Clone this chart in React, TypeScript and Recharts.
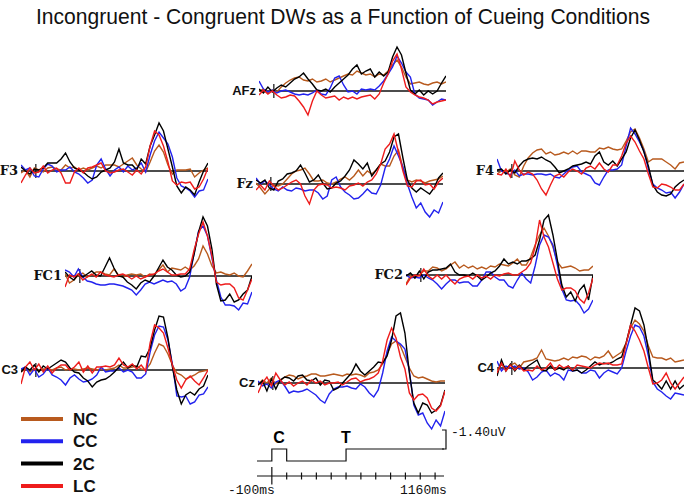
import { LineChart, Line, XAxis, YAxis, ReferenceLine } from "recharts";

// sample times (ms) shared by every electrode
const times = [
  -100, -70, -40, -10, 20, 50, 80, 110, 140, 170, 200, 230, 260, 290, 320, 350, 380, 410, 440, 470, 500, 530,
  560, 590, 620, 650, 680, 710, 740, 770, 800, 830, 860, 890, 920, 950, 980, 1010, 1040, 1070, 1100, 1130, 1160,
];

// amplitudes, negative polarity plotted up (arbitrary units, 14 units = 1.40 uV)
const afzNC = [0,2,-2,1,-1,4,8,11,13,14,11,10,12,9,10,12,9,11,13,15,17,16,20,18,16,17,14,17,16,20,26,31,24,14,7,8,9,7,6,8,9,7,9];
const afzCC = [10,2,-1,1,-2,0,1,-1,-3,-4,-3,-4,-2,1,-3,-4,3,13,15,6,-1,0,-3,2,1,2,1,5,10,17,24,35,28,19,14,-3,-7,-8,-9,-14,-11,-8,-9];
const afz2C = [2,-2,4,-1,3,6,4,8,12,14,18,12,7,1,0,2,-1,4,8,12,16,22,26,17,20,22,14,19,15,19,34,44,36,18,1,-3,1,-4,0,-3,0,8,15];
const afzLC = [-4,1,-3,0,-4,-7,-6,-4,-5,-10,-16,-24,-10,0,-4,-7,-6,-5,-9,-6,-8,-6,-8,-6,-5,-4,-8,-3,8,17,30,37,22,4,-1,-4,-6,-7,-9,-13,-11,-10,-9];

const f3NC = [-2,1,-6,3,1,-1,3,4,2,1,6,3,4,1,3,1,3,5,3,6,6,6,4,7,10,13,6,2,-1,9,20,26,19,6,-3,1,1,1,2,-6,-2,1,3];
const f3CC = [6,1,3,-5,-6,2,7,5,-1,1,1,4,-1,-3,-7,-12,-9,6,12,2,-5,1,4,-1,5,1,3,8,-1,16,30,39,33,27,14,-7,-15,-17,-20,-26,-20,-19,-8];
const f32C = [4,0,-3,2,1,3,8,8,8,12,18,9,3,1,-1,-5,-8,-6,-1,1,3,9,22,8,6,6,1,12,7,25,36,48,40,22,4,-15,-22,-16,-19,-24,-11,0,8];
const f3LC = [-12,-4,3,-2,-1,5,-2,1,3,-2,-12,-12,-1,3,-2,3,4,6,8,0,-2,-1,1,2,-1,-4,1,-3,4,25,40,36,25,9,-10,-14,-11,-12,-11,-18,-16,-8,3];

const fzNC = [1,-4,-10,-5,-1,-2,0,5,10,13,14,16,10,3,3,4,1,0,2,5,7,4,8,14,8,13,10,14,20,18,18,28,34,16,4,2,4,3,1,3,4,5,8];
const fzCC = [6,0,3,-1,-5,-7,-3,-6,-7,-4,-5,-7,-6,-6,-9,-15,-12,4,7,-3,-8,-11,-15,-14,-10,-5,-9,-10,-1,16,25,38,28,17,0,-13,-24,-19,-28,-33,-26,-29,-18];
const fz2C = [4,1,4,-4,-6,3,5,10,11,13,19,11,2,4,9,1,-5,-4,1,3,8,14,24,20,15,21,8,14,20,23,32,47,50,26,4,-4,-8,-4,-7,-10,-4,6,11];
const fzLC = [-6,-1,-6,3,-2,-6,-4,-1,2,4,0,-12,-20,-6,-1,0,-1,-4,-3,-4,-6,-2,-1,1,-2,2,4,10,20,35,40,50,32,13,-2,-3,3,4,-1,0,-5,2,6];

const f4NC = [-3,0,-1,2,-4,-6,5,13,18,21,22,17,19,16,17,19,17,20,17,20,20,19,19,23,22,24,22,21,22,30,39,42,33,22,9,12,12,12,9,6,2,8,9];
const f4CC = [12,0,-2,-4,1,-5,-3,-3,-4,-3,-3,-4,-3,-6,-7,-3,1,4,5,-1,-3,-5,-12,-14,-6,1,1,2,6,25,43,37,29,20,2,-13,-17,-19,-22,-21,-27,-21,-13];
const f42C = [1,2,-3,1,-2,5,10,12,13,12,14,11,9,4,-2,0,2,5,6,7,9,7,15,19,9,6,10,5,12,19,33,41,31,19,5,-14,-21,-24,-25,-23,-16,-12,-9];
const f4LC = [-3,-4,2,-6,10,1,-4,-1,-3,-9,-18,-24,-14,-5,-3,-6,-1,2,0,-3,3,5,2,8,2,-1,6,6,15,28,35,29,20,12,-3,-16,-17,-13,-14,-16,-19,-19,-13];

const fc1NC = [2,-7,-4,1,3,-1,1,4,4,2,1,7,1,-1,1,2,1,2,-1,2,1,6,11,4,8,7,6,9,6,10,17,30,22,10,3,4,2,1,3,0,-1,5,12];
const fc1CC = [6,4,-1,7,-1,-5,-6,-8,-9,-9,-8,-8,-9,-10,-12,-14,-19,-14,-8,-6,-8,-6,-4,-6,-5,-8,-15,-12,-1,23,45,50,40,18,-4,-21,-29,-29,-30,-34,-27,-28,-16];
const fc12C = [4,-1,-4,2,-1,2,5,1,0,9,18,8,0,-1,-6,-9,-13,-7,-4,-6,0,8,16,9,6,1,-1,0,4,22,44,59,50,27,-8,-25,-24,-18,-26,-24,-18,-14,0];
const fc1LC = [-11,1,-1,2,-4,-1,2,-1,4,1,0,-1,1,2,0,-3,0,-3,-1,1,2,5,7,4,1,1,2,2,7,26,42,54,40,20,-6,-9,-8,-8,-12,-22,-24,-14,-3];

const fc2NC = [-9,-1,-3,0,4,4,8,7,4,6,10,13,7,10,7,9,6,8,6,9,8,11,10,9,12,16,10,10,18,30,40,47,39,28,13,7,8,9,7,4,5,5,9];
const fc2CC = [0,-3,-2,-3,0,-3,-5,-9,-14,-9,-5,-5,-8,-7,-7,-11,-11,-5,3,3,-2,-5,-5,-11,-13,-5,2,-4,-8,9,30,40,38,30,10,-14,-25,-26,-25,-30,-38,-34,-25];
const fc22C = [-1,2,-3,4,-4,3,5,5,6,7,11,3,0,0,-1,2,-1,-5,-2,2,4,9,16,11,13,11,14,14,16,20,35,55,60,40,15,-10,-22,-17,-26,-15,-10,-25,0];
const fc2LC = [-10,-3,0,-1,6,-1,-4,0,-4,0,-5,-9,-4,-2,-1,-4,0,-3,-1,-4,0,-1,1,2,0,0,3,6,12,28,55,38,28,12,-4,-15,-13,-13,-16,-24,-28,-18,-3];

const c3NC = [-2,1,-2,1,0,1,1,0,2,3,0,1,1,0,1,2,1,0,1,0,1,2,5,2,2,3,4,1,0,6,17,26,24,16,5,-3,-5,-9,-7,-5,-2,-1,0];
const c3CC = [1,3,-5,1,-7,-4,2,-5,-7,-10,-15,-8,-5,-9,-12,-11,-9,-5,3,-2,-1,-1,2,-2,0,-2,-8,-8,-4,18,35,44,43,30,6,-26,-27,-26,-34,-32,-25,-24,-17];
const c32C = [-2,3,0,5,-2,4,1,4,7,10,8,2,-2,-3,-8,-11,-17,-12,-10,-9,-6,-2,3,8,2,5,3,14,13,22,40,54,53,32,3,-20,-34,-25,-22,-25,-19,-16,-5];
const c3LC = [-14,3,8,0,6,-2,4,-3,2,5,5,0,3,8,-2,4,-3,3,3,4,3,5,12,5,3,6,1,5,-1,27,45,42,37,22,5,-10,-18,-10,-6,-11,-15,-8,0];

const czNC = [-2,3,0,5,-1,2,6,8,7,4,6,7,9,9,7,7,8,9,8,7,9,8,9,8,6,10,11,13,19,29,39,42,37,26,15,7,5,6,4,2,1,2,2];
const czCC = [2,-3,-1,-5,1,3,-3,-10,-8,-9,-8,-6,-9,-12,-17,-20,-11,-6,-4,-4,-3,-5,-6,-1,-4,-10,-14,-7,10,32,46,42,39,34,12,-22,-32,-30,-40,-46,-37,-43,-28];
const cz2C = [-2,2,-8,4,-6,3,6,5,2,7,8,3,2,5,-2,3,2,-7,-5,0,5,10,19,12,8,12,16,21,20,27,43,67,70,50,10,-20,-30,-20,-22,-30,-27,-22,-7];
const czLC = [-10,0,6,-3,10,3,-2,1,-3,0,2,-2,3,0,2,-2,0,0,1,-2,1,4,5,1,3,4,6,10,22,43,55,45,26,14,-10,-17,-12,-11,-15,-25,-28,-23,-8];

const c4NC = [-2,3,0,3,5,0,6,7,8,10,18,9,8,7,8,10,8,11,10,12,11,8,11,10,12,17,10,13,16,25,40,48,44,37,22,11,10,10,8,10,6,7,8];
const c4CC = [7,-3,2,0,2,-1,0,-4,-12,-9,-4,-2,-8,-5,-7,-12,-2,-3,-2,-5,-5,-2,-3,-10,-5,-2,-4,-6,0,17,32,43,41,32,12,-14,-21,-24,-28,-31,-25,-26,-27];
const c42C = [-8,8,-3,4,-3,3,-2,2,5,8,-2,-3,2,-2,0,-2,2,-3,-2,-5,-2,2,6,3,5,4,6,9,11,25,43,60,57,43,18,-12,-16,-21,-13,-21,-13,-21,-17];
const c4LC = [-5,5,-3,3,-2,2,-3,-2,-3,2,-2,0,5,-2,3,0,2,-2,3,2,1,0,3,5,4,5,3,3,4,24,43,37,28,17,0,-16,-15,-12,-5,-15,-21,-15,-9];

// stimulus channel and time axis of the scale diagram
const cueTimes = [-100, 0, 100, 500, 1160];
const cueLevels = [0, 1, 0, 1, 1];
const axisTicks = [100, 200, 300, 400, 500, 600, 700, 800, 900, 1000, 1100];

const conditions = ["NC", "CC", "2C", "LC"];
const colors: Record<string, string> = { NC: "#b85a1e", CC: "#2222ee", "2C": "#000000", LC: "#ee1c1c" };

const PANEL_W = 187;
const Y_TOP = 80;
const Y_BOTTOM = -55;

const panels = [
  { name: "AFz", data: [afzNC, afzCC, afz2C, afzLC], left: 259, base: 91, font: "sans" },
  { name: "F3", data: [f3NC, f3CC, f32C, f3LC], left: 21, base: 171, font: "serif" },
  { name: "Fz", data: [fzNC, fzCC, fz2C, fzLC], left: 256, base: 184, font: "serif" },
  { name: "F4", data: [f4NC, f4CC, f42C, f4LC], left: 497, base: 171, font: "serif" },
  { name: "FC1", data: [fc1NC, fc1CC, fc12C, fc1LC], left: 65, base: 276, font: "serif" },
  { name: "FC2", data: [fc2NC, fc2CC, fc22C, fc2LC], left: 406, base: 275, font: "serif" },
  { name: "C3", data: [c3NC, c3CC, c32C, c3LC], left: 21, base: 370, font: "sans" },
  { name: "Cz", data: [czNC, czCC, cz2C, czLC], left: 258, base: 383, font: "sans" },
  { name: "C4", data: [c4NC, c4CC, c42C, c4LC], left: 497, base: 368, font: "sans" },
];

function Panel({ p }: { p: (typeof panels)[number] }) {
  const rows = times.map((t, i) => {
    const row: Record<string, number> = { t };
    conditions.forEach((c, k) => (row[c] = p.data[k][i]));
    return row;
  });
  return (
    <div style={{ position: "absolute", left: p.left, top: p.base - Y_TOP }}>
      <LineChart width={PANEL_W} height={Y_TOP - Y_BOTTOM} data={rows} margin={{ top: 0, right: 0, bottom: 0, left: 0 }}>
        <XAxis type="number" dataKey="t" domain={[-100, 1160]} hide />
        <YAxis type="number" domain={[Y_BOTTOM, Y_TOP]} hide />
        <ReferenceLine y={0} stroke="#111" strokeWidth={1.4} />
        <ReferenceLine segment={[{ x: 0, y: -7 }, { x: 0, y: 7 }]} stroke="#111" strokeWidth={1.2} />
        {conditions.map((c) => (
          <Line
            key={c}
            dataKey={c}
            type="linear"
            stroke={colors[c]}
            strokeWidth={1.4}
            dot={false}
            isAnimationActive={false}
          />
        ))}
      </LineChart>
    </div>
  );
}

function CueDiagram() {
  const rows = cueTimes.map((t, i) => ({ t, level: cueLevels[i] }));
  return (
    <div style={{ position: "absolute", left: 257, top: 425 }}>
      <LineChart width={PANEL_W} height={66} data={rows} margin={{ top: 0, right: 0, bottom: 0, left: 0 }}>
        <XAxis type="number" dataKey="t" domain={[-100, 1160]} hide />
        <YAxis type="number" domain={[-2.5, 3]} hide />
        <ReferenceLine y={-1.25} stroke="#111" strokeWidth={1.2} />
        <ReferenceLine segment={[{ x: 0, y: -0.5 }, { x: 0, y: -1.95 }]} stroke="#111" strokeWidth={1.2} />
        {axisTicks.map((t) => (
          <ReferenceLine key={t} segment={[{ x: t, y: -0.96 }, { x: t, y: -1.54 }]} stroke="#111" strokeWidth={1.2} />
        ))}
        <Line dataKey="level" type="stepAfter" stroke="#111" strokeWidth={1.2} dot={false} isAnimationActive={false} />
      </LineChart>
    </div>
  );
}

const labelFonts: Record<string, string> = {
  sans: "'Liberation Sans', Arial, sans-serif",
  serif: "'DejaVu Serif', serif",
};

export default function App() {
  return (
    <div style={{ position: "absolute", left: 0, top: 0, width: 685, height: 499, background: "#fff", overflow: "hidden" }}>
      {panels.map((p) => (
        <Panel key={p.name} p={p} />
      ))}
      <CueDiagram />
      <svg width={685} height={499} style={{ position: "absolute", left: 0, top: 0, pointerEvents: "none" }}>
        <text
          x={36}
          y={24}
          fontSize={22}
          textLength={614}
          lengthAdjust="spacingAndGlyphs"
          fontFamily="'Liberation Sans Narrow', 'Arial Narrow', 'Liberation Sans', sans-serif"
          fill="#111"
        >
          Incongruent - Congruent DWs as a Function of Cueing Conditions
        </text>
        {panels.map((p) => (
          <text
            key={p.name}
            x={p.left - 3}
            y={p.base + 4}
            textAnchor="end"
            fontSize={13}
            fontWeight="bold"
            fontFamily={labelFonts[p.font]}
            fill="#111"
          >
            {p.name}
          </text>
        ))}
        {conditions.map((c, i) => (
          <g key={c}>
            <line x1={21} x2={63} y1={419 + i * 22.3} y2={419 + i * 22.3} stroke={colors[c]} strokeWidth={4} />
            <text
              x={73}
              y={425 + i * 22.3}
              fontSize={17}
              fontWeight="bold"
              fontFamily="'Liberation Sans', Arial, sans-serif"
              fill="#111"
            >
              {c}
            </text>
          </g>
        ))}
        <text x={279} y={443} textAnchor="middle" fontSize={16} fontWeight="bold" fontFamily="'Liberation Sans', Arial, sans-serif">
          C
        </text>
        <text x={346} y={443} textAnchor="middle" fontSize={16} fontWeight="bold" fontFamily="'Liberation Sans', Arial, sans-serif">
          T
        </text>
        <path d="M442 430 H446 V449 H442" fill="none" stroke="#111" strokeWidth={1.2} />
        <text x={451} y={436} fontSize={13} fontFamily="'Liberation Mono', monospace" fill="#111">
          -1.40uV
        </text>
        <text x={228} y={494} fontSize={13} fontFamily="'Liberation Mono', monospace" fill="#111">
          -100ms
        </text>
        <text x={400} y={494} fontSize={13} fontFamily="'Liberation Mono', monospace" fill="#111">
          1160ms
        </text>
      </svg>
    </div>
  );
}
